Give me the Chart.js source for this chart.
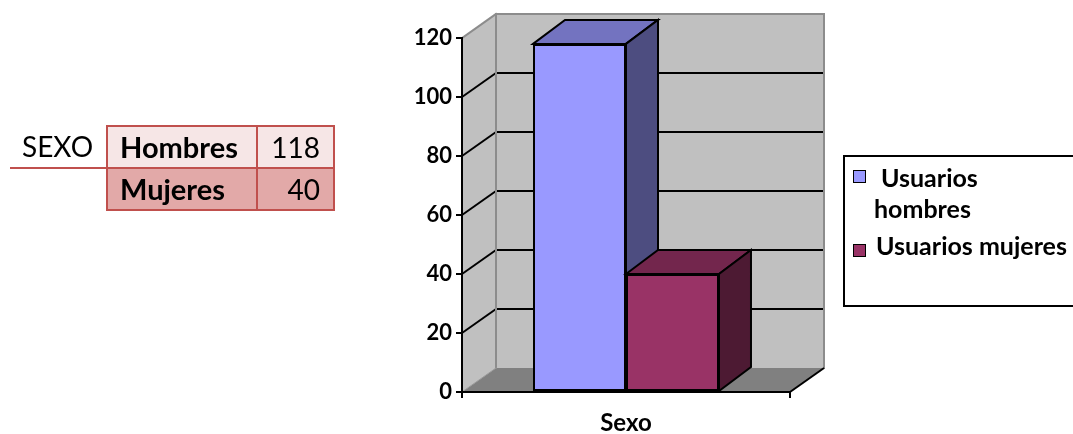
<!DOCTYPE html>
<html>
<head>
<meta charset="utf-8">
<script src="https://cdn.jsdelivr.net/npm/chart.js@4.4.1/dist/chart.umd.min.js"></script>
<style>
  html, body { margin: 0; padding: 0; background: #fff; overflow: hidden; width: 1073px; height: 434px; }
  #wrap { position: relative; width: 1073px; height: 434px; overflow: hidden; }
  canvas { position: absolute; left: 0; top: 0; }
  .sexo { position: absolute; left: 22px; top: 129px; font: 400 28px Lato, sans-serif; color: #000; line-height: 34px; }
  .sexoline { position: absolute; left: 10px; top: 167px; width: 97px; height: 2px; background: #C0504D; }
  table.t { position: absolute; left: 106px; top: 125px; border-collapse: collapse; font-family: Lato, sans-serif; font-size: 28px; }
  table.t td { border: 2px solid #C0504D; padding: 0; height: 40px; line-height: 40px; }
  table.t td.k { width: 136px; font-weight: 700; padding-left: 12px; font-size: 29px; }
  table.t td.v { width: 62px; text-align: right; padding-right: 13px; }
  table.t tr.r1 td { background: #F6E6E6; }
  table.t tr.r2 td { background: #E2A9A8; }
  .legend { position: absolute; left: 843px; top: 155px; width: 300px; height: 152px; border: 2px solid #000; box-sizing: border-box; font: 700 25px Lato, sans-serif; color: #000; }
  .li { position: absolute; white-space: nowrap; line-height: 30px; }
  .sw { position: absolute; width: 11px; height: 11px; border: 1px solid #000; }
</style>
</head>
<body>
<div id="wrap">
  <canvas id="c" width="1073" height="434"></canvas>
  <div class="sexo" id="sexoLabel"></div>
  <div class="sexoline"></div>
  <table class="t" id="tbl"></table>
  <div class="legend" id="legend"></div>
</div>
<script>
// ---- data ----
const tableTitle = 'SEXO';
const tableRows = ['Hombres', 'Mujeres'];
const tableValues = [118, 40];
const categories = ['Sexo'];
const seriesNames = ['Usuarios hombres', 'Usuarios mujeres'];
const hombres = [118];
const mujeres = [40];
const yTicks = [0, 20, 40, 60, 80, 100, 120];
const frontColors = ['#9999FF', '#993366'];
const topColors = ['#7373C0', '#73264D'];
const sideColors = ['#4D4D80', '#4D1A33'];

// ---- table ----
document.getElementById('sexoLabel').textContent = tableTitle;
const tbl = document.getElementById('tbl');
tableRows.forEach((r, i) => {
  const tr = document.createElement('tr');
  tr.className = 'r' + (i + 1);
  const a = document.createElement('td'); a.className = 'k'; a.textContent = r;
  const b = document.createElement('td'); b.className = 'v'; b.textContent = tableValues[i];
  tr.appendChild(a); tr.appendChild(b); tbl.appendChild(tr);
});

// ---- legend ----
const legend = document.getElementById('legend');
const legendLayout = [
  { sw: [8, 13], text: ['Usuarios', 'hombres'], tx: [36, 29], ty: [5, 36] },
  { sw: [8, 87], text: ['Usuarios mujeres'], tx: [31], ty: [73] }
];
legendLayout.forEach((L, i) => {
  const s = document.createElement('div');
  s.className = 'sw'; s.style.left = L.sw[0] + 'px'; s.style.top = L.sw[1] + 'px';
  s.style.background = frontColors[i];
  legend.appendChild(s);
  L.text.forEach((t, j) => {
    const d = document.createElement('div');
    d.className = 'li'; d.textContent = t;
    d.style.left = L.tx[j] + 'px'; d.style.top = L.ty[j] + 'px';
    legend.appendChild(d);
  });
});

// ---- 3D geometry ----
const WALL_DX = 34, WALL_DY = -24;
const BAR_DX = 32, BAR_DY = -24;

function poly(ctx, pts, fill, stroke, lw) {
  ctx.beginPath();
  ctx.moveTo(pts[0][0], pts[0][1]);
  for (let i = 1; i < pts.length; i++) ctx.lineTo(pts[i][0], pts[i][1]);
  ctx.closePath();
  if (fill) { ctx.fillStyle = fill; ctx.fill(); }
  if (stroke) { ctx.strokeStyle = stroke; ctx.lineWidth = lw; ctx.lineJoin = 'miter'; ctx.stroke(); }
}
function line(ctx, x1, y1, x2, y2, color, lw) {
  ctx.beginPath(); ctx.moveTo(x1, y1); ctx.lineTo(x2, y2);
  ctx.strokeStyle = color; ctx.lineWidth = lw; ctx.stroke();
}

const walls3d = {
  id: 'walls3d',
  beforeDraw(chart) {
    const ctx = chart.ctx;
    const ys = chart.scales.y, xs = chart.scales.x;
    const L = xs.left, R = xs.right;
    const y0 = ys.getPixelForValue(yTicks[0]);
    const yTop = ys.getPixelForValue(yTicks[yTicks.length - 1]);
    ctx.save();
    ctx.fillStyle = '#fff'; ctx.fillRect(0, 0, chart.width, chart.height);
    poly(ctx, [[L + WALL_DX, yTop + WALL_DY], [R + WALL_DX, yTop + WALL_DY], [R + WALL_DX, y0 + WALL_DY], [L + WALL_DX, y0 + WALL_DY]], '#C0C0C0', null);
    poly(ctx, [[L, y0], [L, yTop], [L + WALL_DX, yTop + WALL_DY], [L + WALL_DX, y0 + WALL_DY]], '#C0C0C0', null);
    poly(ctx, [[L, y0], [R, y0], [R + WALL_DX, y0 + WALL_DY], [L + WALL_DX, y0 + WALL_DY]], '#808080', null);
    yTicks.slice(1, -1).forEach(v => {
      const p = ys.getPixelForValue(v);
      line(ctx, L, p, L + WALL_DX, p + WALL_DY, '#000', 2);
      line(ctx, L + WALL_DX, p + WALL_DY, R + WALL_DX, p + WALL_DY, '#000', 2);
    });
    ctx.lineCap = 'square';
    line(ctx, L, yTop, L + WALL_DX, yTop + WALL_DY, '#8C8C8C', 2);
    line(ctx, L + WALL_DX, yTop + WALL_DY, R + WALL_DX, yTop + WALL_DY, '#8C8C8C', 2);
    line(ctx, R + WALL_DX, yTop + WALL_DY, R + WALL_DX, y0 + WALL_DY, '#8C8C8C', 2);
    line(ctx, L + WALL_DX, yTop + WALL_DY, L + WALL_DX, y0 + WALL_DY, '#8C8C8C', 2);
    line(ctx, L, y0, L + WALL_DX, y0 + WALL_DY, '#9A9A9A', 1);
    ctx.lineCap = 'butt';
    line(ctx, R, y0, R + WALL_DX, y0 + WALL_DY, '#000', 2);
    ctx.restore();
  },
  afterDatasetsDraw(chart) {
    // redraw each bar in dataset order with its top and side faces, so later series overlap earlier ones
    const ctx = chart.ctx;
    ctx.save();
    chart.data.datasets.forEach((ds, idx) => {
      const meta = chart.getDatasetMeta(idx);
      meta.data.forEach(bar => {
        bar.draw(ctx);
        const p = bar.getProps(['x', 'y', 'base', 'width'], true);
        const l = p.x - p.width / 2, r = p.x + p.width / 2, t = p.y, b = p.base;
        poly(ctx, [[l, t], [l + BAR_DX, t + BAR_DY], [r + BAR_DX, t + BAR_DY], [r, t]], topColors[idx], '#000', 2);
        poly(ctx, [[r, t], [r + BAR_DX, t + BAR_DY], [r + BAR_DX, b + BAR_DY], [r, b]], sideColors[idx], '#000', 2);
      });
    });
    ctx.restore();
  }
};

new Chart(document.getElementById('c'), {
  type: 'bar',
  data: {
    labels: categories,
    datasets: [
      { label: seriesNames[0], data: hombres, backgroundColor: frontColors[0], borderColor: '#000', borderWidth: 2, borderSkipped: false },
      { label: seriesNames[1], data: mujeres, backgroundColor: frontColors[1], borderColor: '#000', borderWidth: 2, borderSkipped: false }
    ]
  },
  options: {
    responsive: false,
    animation: false,
    devicePixelRatio: 1,
    layout: { padding: { left: 390, right: 283, top: 38, bottom: 0 } },
    plugins: { legend: { display: false }, tooltip: { enabled: false } },
    datasets: { bar: { categoryPercentage: 0.567, barPercentage: 1 } },
    scales: {
      x: {
        offset: true,
        grid: { display: true, drawOnChartArea: false, drawTicks: true, tickLength: 6, color: '#000', lineWidth: 2, offset: true },
        border: { display: true, color: '#000', width: 2 },
        ticks: { color: '#000', font: { family: 'Lato', weight: 'bold', size: 24 }, padding: 11 },
        afterFit: s => { s.height = 42; }
      },
      y: {
        min: 0, max: 120,
        afterBuildTicks: s => { s.ticks = yTicks.map(v => ({ value: v })); },
        grid: { display: true, drawOnChartArea: false, drawTicks: true, tickLength: 6, color: '#000', lineWidth: 2 },
        border: { display: true, color: '#000', width: 2 },
        ticks: { color: '#000', font: { family: 'Lato', weight: 'bold', size: 22 }, padding: 4 },
        afterFit: s => { s.width = 72; }
      }
    }
  },
  plugins: [walls3d]
});
</script>
</body>
</html>
